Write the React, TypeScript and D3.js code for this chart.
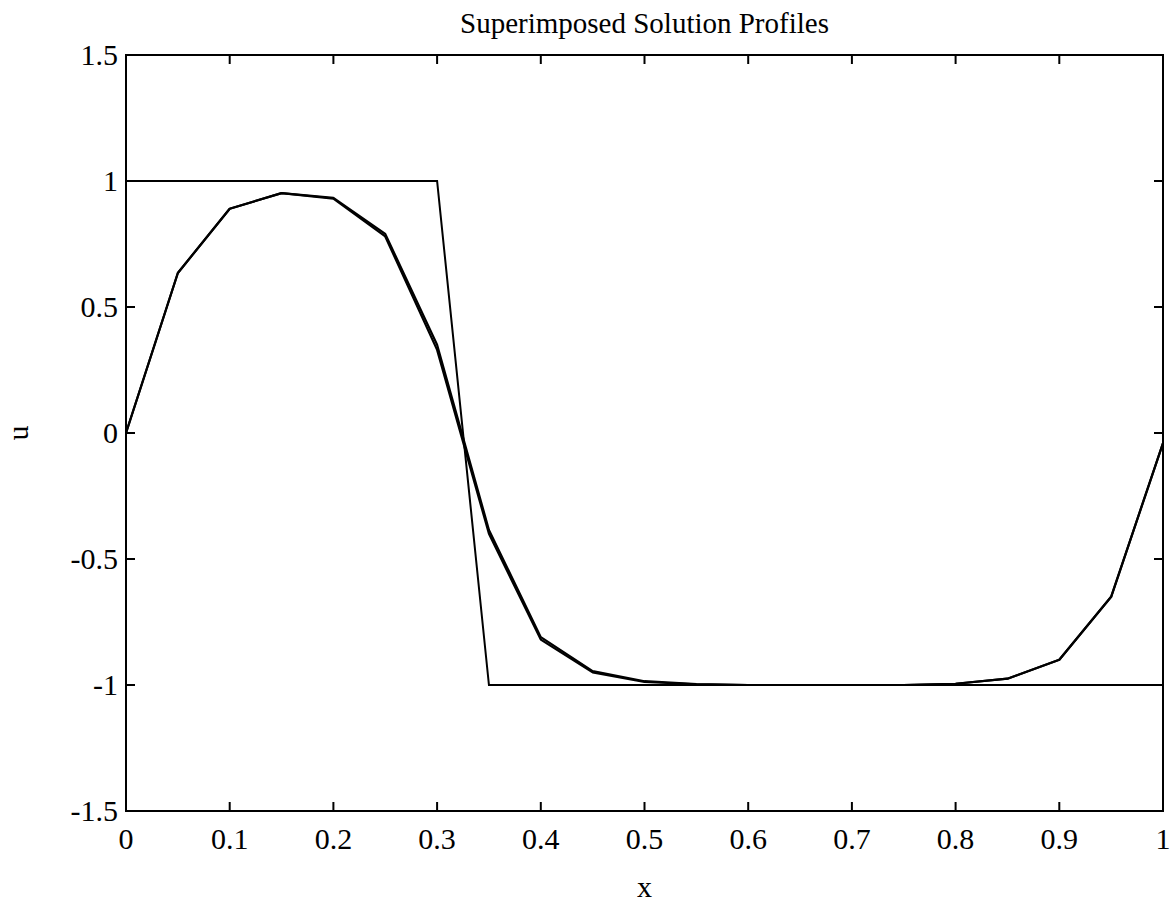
import React from "react";
import * as d3 from "d3";

const xTicks = [0, 0.1, 0.2, 0.3, 0.4, 0.5, 0.6, 0.7, 0.8, 0.9, 1];
const yTicks = [-1.5, -1, -0.5, 0, 0.5, 1, 1.5];

// initial condition (square wave)
const squareX = [0, 0.3, 0.35, 1];
const squareU = [1, 1, -1, -1];

// computed profiles (two almost identical curves)
const gridX = [0, 0.05, 0.1, 0.15, 0.2, 0.25, 0.3, 0.35, 0.4, 0.45, 0.5, 0.55, 0.6, 0.65, 0.7, 0.75, 0.8, 0.85, 0.9, 0.95, 1];
const profileA = [0, 0.635, 0.89, 0.952, 0.933, 0.79, 0.35, -0.385, -0.81, -0.945, -0.985, -0.996, -1, -1, -1, -1, -0.995, -0.975, -0.9, -0.65, -0.04];
const profileB = [0, 0.635, 0.89, 0.952, 0.93, 0.78, 0.33, -0.4, -0.82, -0.95, -0.988, -0.997, -1, -1, -1, -1, -0.995, -0.975, -0.9, -0.65, -0.04];

const W = 1172;
const H = 914;
const L = 126, R = 1163, T = 55, B = 811;

export default function App() {
  const x = d3.scaleLinear().domain([0, 1]).range([L, R]);
  const y = d3.scaleLinear().domain([-1.5, 1.5]).range([B, T]);
  const line = d3.line<[number, number]>().x(d => x(d[0])).y(d => y(d[1]));
  const sq = line(squareX.map((v, i) => [v, squareU[i]]) as [number, number][]) || "";
  const pa = line(gridX.map((v, i) => [v, profileA[i]]) as [number, number][]) || "";
  const pb = line(gridX.map((v, i) => [v, profileB[i]]) as [number, number][]) || "";
  const font = "'Liberation Serif', 'Times New Roman', serif";
  const tl = 9;
  return (
    <svg width={W} height={H} style={{ position: "absolute", left: 0, top: 0 }} fontFamily={font}>
      <rect x={0} y={0} width={W} height={H} fill="#fff" />
      <text x={(L + R) / 2} y={33} textAnchor="middle" fontSize={29} fill="#000">Superimposed Solution Profiles</text>
      {xTicks.map(t => (
        <g key={"x" + t}>
          <line x1={x(t)} x2={x(t)} y1={B} y2={B - tl} stroke="#000" strokeWidth={2} />
          <line x1={x(t)} x2={x(t)} y1={T} y2={T + tl} stroke="#000" strokeWidth={2} />
          <text x={x(t)} y={849} textAnchor="middle" fontSize={30} fill="#000">{String(t)}</text>
        </g>
      ))}
      {yTicks.map(t => (
        <g key={"y" + t}>
          <line x1={L} x2={L + tl} y1={y(t)} y2={y(t)} stroke="#000" strokeWidth={2} />
          <line x1={R} x2={R - tl} y1={y(t)} y2={y(t)} stroke="#000" strokeWidth={2} />
          <text x={118} y={y(t) + 10} textAnchor="end" fontSize={30} fill="#000">{String(t)}</text>
        </g>
      ))}
      <rect x={L} y={T} width={R - L} height={B - T} fill="none" stroke="#000" strokeWidth={2} />
      <path d={sq} fill="none" stroke="#000" strokeWidth={2} />
      <path d={pa} fill="none" stroke="#000" strokeWidth={2.2} strokeLinejoin="round" />
      <path d={pb} fill="none" stroke="#000" strokeWidth={2.2} strokeLinejoin="round" />
      <text x={(L + R) / 2} y={897} textAnchor="middle" fontSize={30} fill="#000">x</text>
      <text transform={`translate(28,${y(0)}) rotate(-90)`} textAnchor="middle" fontSize={30} fill="#000">u</text>
    </svg>
  );
}
